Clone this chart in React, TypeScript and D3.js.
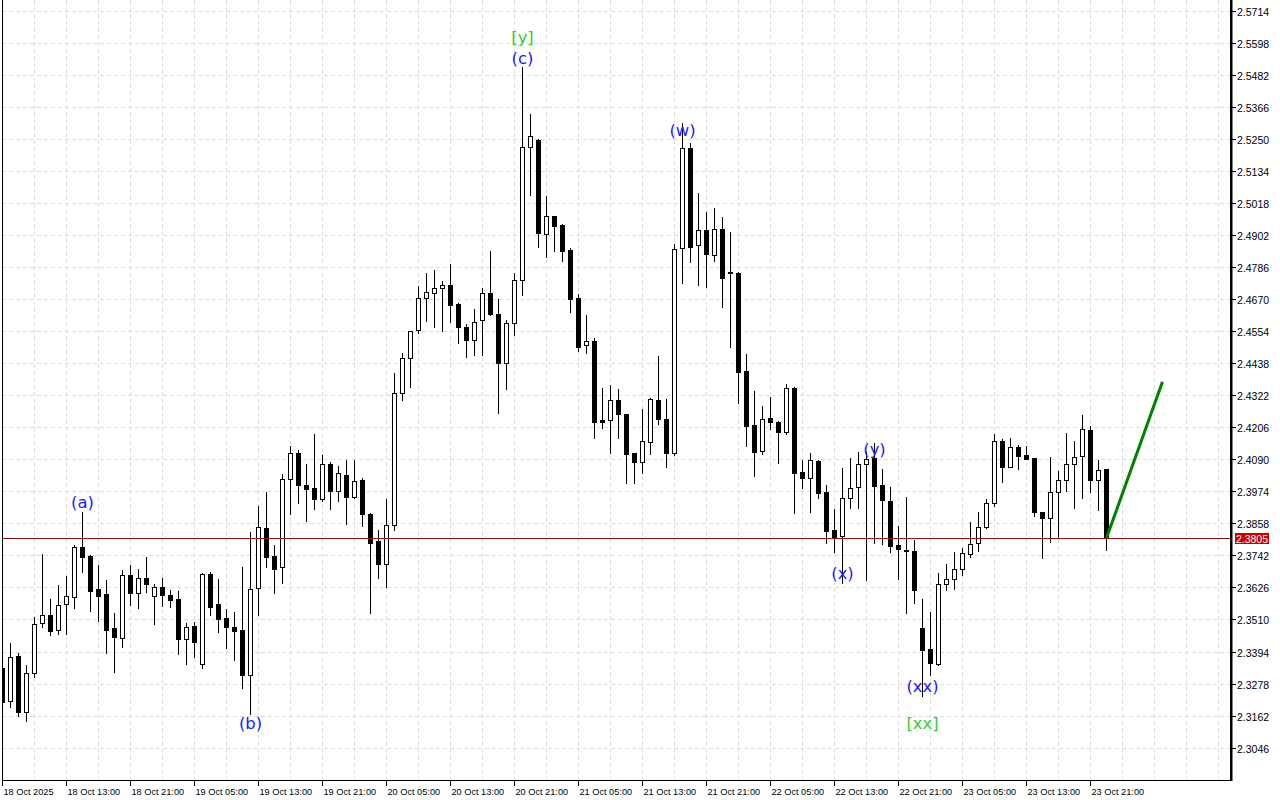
import React from "react";
import * as d3 from "d3";

// ---- data (hourly candles, index 0 = 18 Oct 05:00) ----
const opens = [
  2.3334, 2.3214, 2.3379, 2.3174, 2.3315, 2.3496, 2.3525, 2.3471, 2.3565, 2.359,
  2.3771, 2.374, 2.362, 2.3602, 2.3479, 2.3442, 2.367, 2.3607, 2.3659, 2.3596,
  2.3626, 2.3597, 2.3584, 2.344, 2.3486, 2.3349, 2.3675, 2.3566, 2.3515, 2.3482,
  2.3472, 2.3309, 2.3623, 2.384, 2.374, 2.3699, 2.4017, 2.4111, 2.3996, 2.3986,
  2.3947, 2.4072, 2.3974, 2.4032, 2.3954, 2.4015, 2.3891, 2.3794, 2.371, 2.3851,
  2.4331, 2.4455, 2.4557, 2.4672, 2.4691, 2.4709, 2.4719, 2.4652, 2.4567, 2.452,
  2.4594, 2.4691, 2.4616, 2.4437, 2.4584, 2.4739, 2.5219, 2.5245, 2.4904, 2.497,
  2.4937, 2.4847, 2.4672, 2.4502, 2.4517, 2.4231, 2.4231, 2.4303, 2.4253, 2.4112,
  2.4079, 2.4151, 2.4303, 2.4236, 2.4114, 2.4853, 2.5215, 2.4864, 2.4918, 2.483,
  2.4923, 2.4768, 2.4764, 2.4409, 2.4214, 2.4121, 2.4238, 2.4226, 2.419, 2.4348,
  2.4044, 2.4021, 2.4084, 2.397, 2.3834, 2.3813, 2.3949, 2.3988, 2.4072, 2.4093,
  2.3996, 2.3939, 2.3778, 2.3761, 2.3757, 2.3478, 2.3402, 2.3349, 2.3638, 2.3655,
  2.3691, 2.3748, 2.3786, 2.3844, 2.393, 2.4155, 2.4063, 2.4133, 2.4104, 2.4093,
  2.3898, 2.3876, 2.397, 2.4014, 2.4072, 2.4101, 2.4195, 2.4014, 2.4053,
];
const highs = [
  2.3363, 2.3425, 2.3389, 2.3345, 2.3518, 2.3747, 2.3584, 2.3634, 2.3666, 2.378,
  2.3898, 2.3742, 2.3707, 2.3654, 2.3533, 2.3689, 2.3707, 2.3694, 2.3736, 2.3639,
  2.3659, 2.3618, 2.3613, 2.3498, 2.3502, 2.3678, 2.3682, 2.3656, 2.3547, 2.3538,
  2.3701, 2.3827, 2.3921, 2.3971, 2.378, 2.4037, 2.4138, 2.4123, 2.4074, 2.4181,
  2.4105, 2.408, 2.4065, 2.4087, 2.4087, 2.4022, 2.3894, 2.3834, 2.3945, 2.4403,
  2.4473, 2.4553, 2.4717, 2.4765, 2.4775, 2.4736, 2.4797, 2.4656, 2.4579, 2.4633,
  2.4709, 2.4845, 2.4669, 2.4594, 2.4763, 2.5508, 2.5339, 2.5248, 2.5043, 2.4972,
  2.4941, 2.4856, 2.4688, 2.4612, 2.4528, 2.4349, 2.4359, 2.4344, 2.4255, 2.4114,
  2.4272, 2.4313, 2.4464, 2.4309, 2.4869, 2.5308, 2.5233, 2.5054, 2.4985, 2.4998,
  2.4967, 2.4911, 2.4766, 2.4471, 2.4337, 2.4283, 2.4316, 2.4229, 2.4362, 2.435,
  2.4087, 2.4111, 2.4086, 2.3996, 2.391, 2.4057, 2.4093, 2.4117, 2.4117, 2.4149,
  2.4054, 2.3988, 2.3848, 2.3952, 2.3797, 2.3584, 2.3538, 2.3677, 2.3711, 2.3754,
  2.377, 2.3862, 2.3898, 2.3945, 2.4181, 2.4162, 2.4167, 2.4141, 2.4137, 2.4095,
  2.39, 2.4097, 2.4048, 2.4184, 2.4155, 2.425, 2.421, 2.4087, 2.4055,
];
const lows = [
  2.32, 2.3193, 2.3162, 2.3141, 2.3303, 2.3484, 2.3454, 2.3458, 2.3458, 2.3553,
  2.3681, 2.3542, 2.3506, 2.339, 2.3321, 2.3411, 2.3562, 2.3553, 2.361, 2.3495,
  2.356, 2.3556, 2.3386, 2.335, 2.3375, 2.3334, 2.3527, 2.3464, 2.3407, 2.3363,
  2.3262, 2.3168, 2.3527, 2.3701, 2.3607, 2.3641, 2.3893, 2.3933, 2.3867, 2.3909,
  2.394, 2.3911, 2.394, 2.3857, 2.395, 2.3849, 2.3535, 2.366, 2.3629, 2.3834,
  2.4304, 2.435, 2.4546, 2.4591, 2.457, 2.4555, 2.4588, 2.4512, 2.4461, 2.4468,
  2.4468, 2.4611, 2.4258, 2.4345, 2.454, 2.4684, 2.5046, 2.4857, 2.4821, 2.4845,
  2.4808, 2.4624, 2.4483, 2.4473, 2.4166, 2.4202, 2.4111, 2.4166, 2.4005, 2.4005,
  2.4039, 2.4108, 2.4217, 2.4063, 2.4105, 2.4729, 2.4805, 2.4721, 2.4714, 2.4808,
  2.4642, 2.4497, 2.4295, 2.4139, 2.403, 2.4109, 2.42, 2.4075, 2.418, 2.3896,
  2.3987, 2.39, 2.3949, 2.3788, 2.3755, 2.3641, 2.3912, 2.3912, 2.3653, 2.3788,
  2.3782, 2.3753, 2.3658, 2.3532, 2.3571, 2.3234, 2.3309, 2.3345, 2.3617, 2.362,
  2.3672, 2.3737, 2.3759, 2.384, 2.3922, 2.4009, 2.4061, 2.4055, 2.409, 2.3886,
  2.3734, 2.3791, 2.3804, 2.3976, 2.3915, 2.3951, 2.3972, 2.3907, 2.3762,
];
const closes = [
  2.3211, 2.3374, 2.3174, 2.3316, 2.3494, 2.3525, 2.3469, 2.3561, 2.3594, 2.3771,
  2.3737, 2.3614, 2.3596, 2.3473, 2.3445, 2.367, 2.3607, 2.3659, 2.3637, 2.3626,
  2.36, 2.3581, 2.344, 2.3483, 2.3428, 2.3673, 2.3556, 2.3512, 2.3482, 2.3469,
  2.3309, 2.3619, 2.3844, 2.3737, 2.3694, 2.4017, 2.4111, 2.3996, 2.3983, 2.3947,
  2.4072, 2.3974, 2.404, 2.3954, 2.401, 2.3893, 2.3788, 2.3712, 2.3851, 2.4329,
  2.4455, 2.4553, 2.4672, 2.4694, 2.4709, 2.4719, 2.4649, 2.4567, 2.452, 2.4588,
  2.4691, 2.4616, 2.4437, 2.4584, 2.4739, 2.5221, 2.5261, 2.4908, 2.497, 2.4935,
  2.4845, 2.4671, 2.4497, 2.4517, 2.4226, 2.4226, 2.4303, 2.4253, 2.4108, 2.4079,
  2.4155, 2.4307, 2.4234, 2.4111, 2.485, 2.5215, 2.4859, 2.4918, 2.4834, 2.4923,
  2.4747, 2.4763, 2.4407, 2.4211, 2.4117, 2.4234, 2.4226, 2.419, 2.4347, 2.4041,
  2.4021, 2.4086, 2.3969, 2.3831, 2.3808, 2.3949, 2.3987, 2.4072, 2.409, 2.3994,
  2.3941, 2.3777, 2.3764, 2.3759, 2.3617, 2.3401, 2.3354, 2.3638, 2.3658, 2.3691,
  2.3749, 2.3782, 2.3844, 2.393, 2.4155, 2.4063, 2.4133, 2.4103, 2.4092, 2.39,
  2.3878, 2.397, 2.4014, 2.4072, 2.4097, 2.4198, 2.4014, 2.4052, 2.3805,
];

const timeLabels = [
  "18 Oct 2025", "18 Oct 13:00", "18 Oct 21:00", "19 Oct 05:00", "19 Oct 13:00",
  "19 Oct 21:00", "20 Oct 05:00", "20 Oct 13:00", "20 Oct 21:00", "21 Oct 05:00",
  "21 Oct 13:00", "21 Oct 21:00", "22 Oct 05:00", "22 Oct 13:00", "22 Oct 21:00",
  "23 Oct 05:00", "23 Oct 13:00", "23 Oct 21:00",
];
const timeLabelStep = 8; // candles between labels

const priceTicks = [
  "2.5714", "2.5598", "2.5482", "2.5366", "2.5250", "2.5134", "2.5018", "2.4902",
  "2.4786", "2.4670", "2.4554", "2.4438", "2.4322", "2.4206", "2.4090", "2.3974",
  "2.3858", "2.3742", "2.3626", "2.3510", "2.3394", "2.3278", "2.3162", "2.3046",
];

const lastPrice = 2.3805;

// wave labels: candle index, text, price level of label centre, kind
const waveIdx = [10, 31, 65, 65, 85, 105, 109, 115, 115];
const waveText = ["(a)", "(b)", "[y]", "(c)", "(w)", "(x)", "(y)", "(xx)", "[xx]"];
const wavePrice = [2.3932, 2.3135, 2.5618, 2.5542, 2.5281, 2.3675, 2.4127, 2.3269, 2.3132];
const waveKind = ["minor", "minor", "major", "minor", "minor", "minor", "minor", "minor", "major"];

// projected move
const projIdx = [138, 145];
const projPrice = [2.3805, 2.437];

export default function App() {
  const W = 1280;
  const H = 800;
  const left = 2;
  const right = 1230;
  const top = 0;
  const bottom = 780;

  const x = d3.scaleLinear().domain([0, 1]).range([2.5, 10.5]);
  const y = d3
    .scaleLinear()
    .domain([2.3046, 2.5714])
    .range([747.7, 10.5]);

  const crisp = (v: number) => Math.round(v) + 0.5;

  const nVisible = Math.floor((right - 2.5) / 8);
  const vGrid = d3.range(4, nVisible + 1, 4);

  const projLine = d3
    .line<number>()
    .x((d) => x(projIdx[d]))
    .y((d) => y(projPrice[d]));

  const candles = opens.map((o, i) => {
    const c = closes[i];
    const hi = highs[i];
    const lo = lows[i];
    const cx = x(i);
    const bull = c > o;
    const yTop = Math.round(y(Math.max(o, c)));
    const yBot = Math.round(y(Math.min(o, c)));
    return (
      <g key={i}>
        <line
          x1={cx}
          x2={cx}
          y1={Math.round(y(hi))}
          y2={Math.round(y(lo)) + 1}
          stroke="#000"
          strokeWidth={1}
        />
        {yBot - yTop >= 1 ? (
          <rect
            x={cx - 2}
            y={yTop + 0.5}
            width={4}
            height={yBot - yTop}
            fill={bull ? "#fff" : "#000"}
            stroke="#000"
            strokeWidth={1}
          />
        ) : (
          <line x1={cx - 2.5} x2={cx + 2.5} y1={yTop + 0.5} y2={yTop + 0.5} stroke="#000" strokeWidth={1} />
        )}
      </g>
    );
  });

  const yLast = crisp(y(lastPrice));

  return (
    <svg
      width={W}
      height={H}
      style={{ position: "absolute", left: 0, top: 0, background: "#fff" }}
      fontFamily="'Liberation Sans', Arial, sans-serif"
    >
      <defs>
        <clipPath id="plot">
          <rect x={left} y={top} width={right - left} height={bottom - top} />
        </clipPath>
      </defs>
      <rect x={0} y={0} width={W} height={H} fill="#fff" />

      {/* grid */}
      <g stroke="#dcdcdc" strokeWidth={1} strokeDasharray="4,3">
        {priceTicks.map((t) => (
          <line key={t} x1={left} x2={right} y1={crisp(y(+t))} y2={crisp(y(+t))} />
        ))}
        {vGrid.map((i) => (
          <line key={i} x1={x(i)} x2={x(i)} y1={top} y2={bottom} />
        ))}
      </g>

      {/* candles */}
      <g clipPath="url(#plot)">{candles}</g>

      {/* last price line */}
      <line x1={left} x2={right} y1={yLast} y2={yLast} stroke="#8c1010" strokeWidth={1} />

      {/* projection */}
      <path
        d={projLine([0, 1]) || ""}
        stroke="#008000"
        strokeWidth={3}
        fill="none"
      />

      {/* wave labels */}
      {waveText.map((t, k) => (
        <text
          key={k}
          x={x(waveIdx[k])}
          y={y(wavePrice[k])}
          textAnchor="middle"
          dominantBaseline="central"
          fontFamily="'DejaVu Sans', sans-serif"
          fontSize={16.4}
          fill={waveKind[k] === "major" ? "#33cc33" : "#1a1aff"}
        >
          {t}
        </text>
      ))}

      {/* frame */}
      <line x1={left + 0.5} x2={left + 0.5} y1={top} y2={bottom} stroke="#000" />
      <line x1={left} x2={right} y1={bottom + 0.5} y2={bottom + 0.5} stroke="#000" />
      <rect x={right} y={top} width={2.5} height={bottom + 1} fill="#000" />

      {/* price axis */}
      {priceTicks.map((t) => {
        const yy = crisp(y(+t));
        return (
          <g key={t}>
            <line x1={right + 2} x2={right + 6} y1={yy} y2={yy} stroke="#000" />
            <text x={right + 7} y={yy} dominantBaseline="central" fontSize={10.5} fill="#000">
              {t}
            </text>
          </g>
        );
      })}
      <rect x={right + 5} y={yLast - 5.5} width={34} height={11} fill="#c80000" />
      <text
        x={right + 22}
        y={yLast}
        textAnchor="middle"
        dominantBaseline="central"
        fontSize={10.5}
        fill="#fff"
      >
        {lastPrice.toFixed(4)}
      </text>

      {/* time axis */}
      {timeLabels.map((t, k) => {
        const xx = crisp(x(k * timeLabelStep) - 0.5);
        return (
          <g key={t}>
            <line x1={xx} x2={xx} y1={bottom} y2={bottom + 6} stroke="#000" />
            <text x={xx + 1} y={bottom + 12} dominantBaseline="central" fontSize={9.2} fill="#000">
              {t}
            </text>
          </g>
        );
      })}
    </svg>
  );
}
